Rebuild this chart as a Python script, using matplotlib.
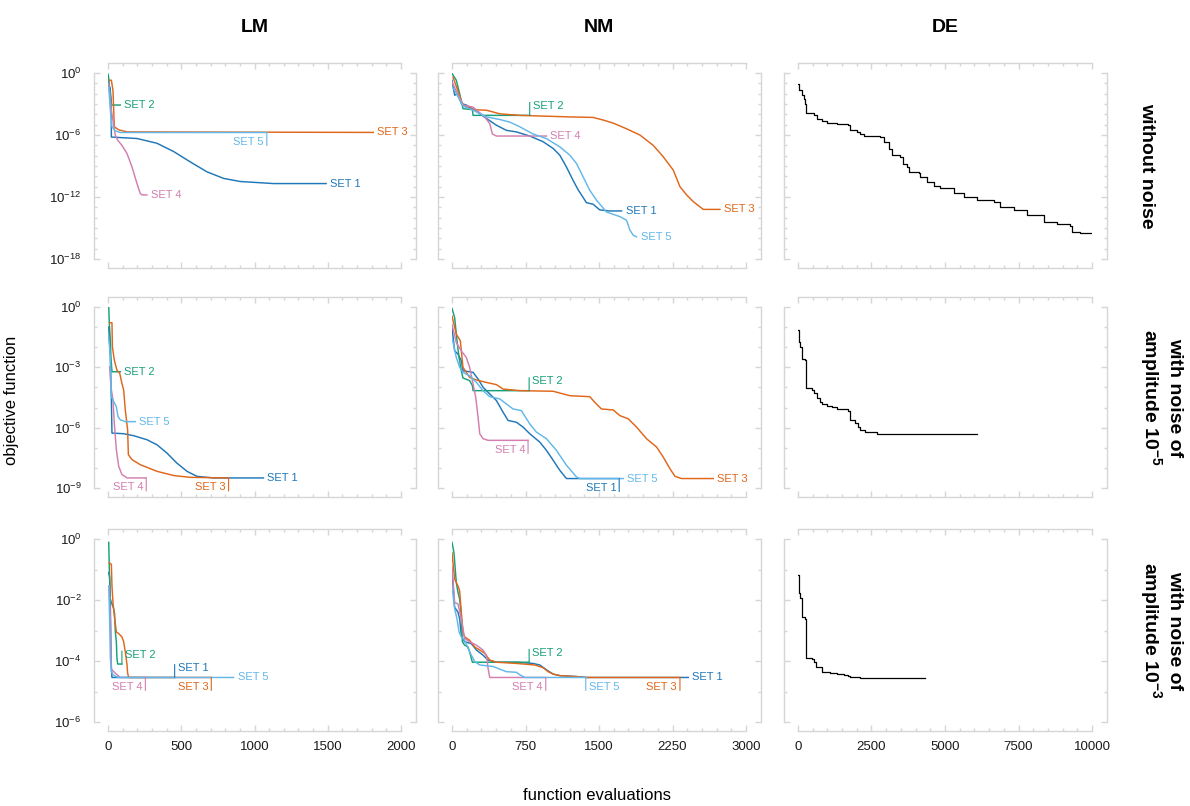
# Convergence of LM / NM / DE fits, three noise levels

import numpy as np
import matplotlib
matplotlib.use('Agg')
import matplotlib.pyplot as plt
from matplotlib.ticker import FixedLocator, NullFormatter, LogFormatterMathtext

plt.rcParams['font.family'] = ['Liberation Sans', 'DejaVu Sans']
plt.rcParams['mathtext.fontset'] = 'custom'
plt.rcParams['mathtext.rm'] = 'Liberation Sans'
plt.rcParams['mathtext.it'] = 'Liberation Sans:italic'
plt.rcParams['mathtext.bf'] = 'Liberation Sans:bold'
plt.rcParams['mathtext.default'] = 'regular'

methods = ['LM', 'NM', 'DE']
conditions = ['without noise',
              'with noise of\namplitude $10^{-5}$',
              'with noise of\namplitude $10^{-3}$']
set_names = ['SET 1', 'SET 2', 'SET 3', 'SET 4', 'SET 5']
x_max = [2000, 3000, 10000]
x_major = [500, 750, 2500]
x_minor = [100, 150, 500]
y_exp_min = [-18, -9, -6]
y_major_step = [6, 3, 2]

# values: x = function evaluations, E = log10(objective function)
# ---- without noise ----
LM0_S1_X = [0, 15, 22, 23, 198, 334, 448, 561, 675, 789, 902, 1130, 1489]
LM0_S1_E = [-0.8, -1.5, -3.0, -6.2, -6.34, -6.8, -7.6, -8.6, -9.56, -10.2, -10.5, -10.7, -10.7]
LM0_S2_X = [0, 5, 10, 20, 25, 84]
LM0_S2_E = [-0.1, -0.5, -1.5, -2.5, -3.1, -3.1]
LM0_S3_X = [11, 23, 34, 39, 43, 73, 130, 1811]
LM0_S3_E = [-0.7, -0.7, -1.7, -3.6, -5.2, -5.5, -5.7, -5.75]
LM0_S4_X = [5, 23, 34, 50, 66, 95, 130, 164, 198, 220, 232, 266]
LM0_S4_E = [-1.0, -3.6, -4.6, -6.0, -6.5, -7.0, -7.8, -9.1, -10.7, -11.65, -11.8, -11.8]
LM0_S5_X = [5, 16, 27, 50, 84, 1084]
LM0_S5_E = [-1.35, -3.6, -5.2, -5.6, -5.76, -5.76]

NM0_S1_X = [0, 27, 61, 95, 146, 232, 351, 453, 555, 657, 793, 930, 1032, 1100, 1168, 1236, 1287, 1372, 1440, 1508, 1610, 1730]
NM0_S1_E = [-0.7, -2.15, -2.0, -2.95, -3.1, -3.6, -4.4, -5.05, -5.55, -5.7, -6.1, -6.65, -7.3, -7.95, -9.1, -10.4, -11.3, -12.55, -12.7, -13.25, -13.35, -13.35]
NM0_S2_X = [0, 44, 78, 112, 208, 215, 793]
NM0_S2_E = [-0.05, -0.7, -2.0, -3.45, -3.55, -4.1, -4.1]
NM0_S3_X = [10, 112, 215, 351, 487, 691, 1032, 1202, 1440, 1542, 1645, 1781, 1917, 2053, 2155, 2258, 2326, 2394, 2462, 2564, 2734]
NM0_S3_E = [-0.4, -3.1, -3.55, -3.6, -3.95, -4.1, -4.2, -4.25, -4.3, -4.55, -4.85, -5.4, -6.0, -7.0, -8.1, -9.4, -11.0, -11.8, -12.45, -13.2, -13.2]
NM0_S4_X = [0, 112, 215, 334, 385, 412, 453, 964]
NM0_S4_E = [-0.87, -3.1, -3.3, -4.25, -4.9, -5.9, -6.1, -6.1]
NM0_S5_X = [0, 27, 61, 112, 215, 351, 487, 589, 691, 827, 964, 1100, 1202, 1270, 1338, 1406, 1474, 1576, 1713, 1781, 1815, 1849, 1883]
NM0_S5_E = [-1.35, -1.65, -2.3, -3.2, -3.6, -4.25, -4.5, -4.75, -5.2, -5.9, -6.35, -7.15, -7.95, -8.75, -10.05, -11.35, -12.3, -13.45, -13.9, -14.25, -15.2, -15.7, -15.85]

DE0_X = [0, 45, 136, 193, 249, 283, 533, 646, 816, 987, 1327, 1690, 1758, 2007, 2121, 2234, 2801, 2914, 3084, 3198, 3481,
         3572, 3708, 3765, 4105, 4162, 4389, 4615, 4842, 5296, 5636, 6090, 6656, 6883, 7337, 7791, 8358, 8811, 9265, 9321, 9605, 10000]
DE0_E = [-1.09, -1.67, -2.16, -2.48, -2.96, -3.86, -4.09, -4.41, -4.67, -4.8, -4.89, -5.05, -5.54, -5.7, -5.92, -6.12, -6.18,
         -6.66, -7.31, -7.95, -8.11, -8.76, -9.08, -9.56, -9.72, -10.11, -10.59, -10.95, -11.17, -11.65, -11.98, -12.3, -12.46,
         -12.94, -13.26, -13.75, -14.39, -14.62, -14.78, -15.36, -15.45, -15.45]

# ---- noise 1e-5 ----
LM1_S1_X = [5, 16, 23, 27, 107, 175, 266, 334, 402, 470, 539, 607, 721, 1061]
LM1_S1_E = [-1.0, -2.5, -4.6, -6.27, -6.3, -6.4, -6.6, -6.85, -7.26, -7.76, -8.17, -8.42, -8.5, -8.5]
LM1_S2_X = [5, 9, 16, 20, 27, 84]
LM1_S2_E = [0.0, -0.83, -1.65, -2.5, -3.22, -3.22]
LM1_S3_X = [11, 27, 30, 43, 61, 80, 95, 107, 118, 134, 139, 164, 220, 334, 448, 561, 823]
LM1_S3_E = [-0.78, -0.78, -1.98, -2.64, -3.14, -3.3, -3.8, -4.13, -5.12, -6.11, -7.34, -7.59, -7.84, -8.17, -8.38, -8.47, -8.5]
LM1_S4_X = [11, 20, 34, 43, 57, 73, 95, 130, 261]
LM1_S4_E = [-2.97, -3.96, -4.62, -5.78, -7.1, -7.92, -8.33, -8.5, -8.5]
LM1_S5_X = [5, 16, 23, 39, 57, 68, 84, 118, 186]
LM1_S5_E = [-1.49, -2.48, -4.46, -4.7, -4.95, -5.45, -5.61, -5.7, -5.7]

NM1_S1_X = [0, 27, 61, 95, 112, 215, 266, 317, 351, 385, 453, 521, 572, 657, 725, 793, 896, 964, 1032, 1100, 1168, 1706]
NM1_S1_E = [-1.02, -2.18, -2.34, -2.67, -3.17, -3.25, -3.58, -3.99, -4.16, -4.32, -4.65, -5.23, -5.64, -5.73, -5.97, -6.3, -6.72, -7.13, -7.62, -8.12, -8.53, -8.53]
NM1_S2_X = [0, 27, 51, 72, 95, 112, 180, 208, 215, 787]
NM1_S2_E = [-0.07, -0.53, -1.68, -2.51, -3.17, -3.53, -3.66, -3.91, -4.16, -4.16]
NM1_S3_X = [0, 44, 85, 112, 180, 249, 351, 453, 521, 691, 1032, 1202, 1406, 1457, 1525, 1645, 1713, 1798, 1883, 1985, 2087, 2155, 2224, 2275, 2343, 2666]
NM1_S3_E = [-0.45, -1.35, -1.68, -3.0, -3.5, -3.63, -3.75, -3.86, -4.08, -4.16, -4.19, -4.41, -4.46, -4.74, -5.07, -5.12, -5.4, -5.56, -5.97, -6.55, -6.96, -7.46, -8.04, -8.42, -8.53, -8.53]
NM1_S4_X = [0, 44, 95, 146, 180, 215, 242, 266, 283, 317, 368, 776]
NM1_S4_E = [-0.86, -1.77, -2.18, -2.51, -3.0, -3.83, -4.49, -5.48, -6.3, -6.55, -6.63, -6.63]
NM1_S5_X = [0, 44, 78, 112, 180, 249, 317, 385, 487, 555, 623, 708, 793, 861, 964, 1066, 1168, 1270, 1304, 1747]
NM1_S5_E = [-1.52, -2.51, -3.0, -3.25, -3.42, -3.75, -4.16, -4.46, -4.57, -4.82, -5.07, -5.15, -5.81, -6.22, -6.55, -7.13, -7.87, -8.45, -8.53, -8.53]

DE1_X = [0, 23, 79, 136, 227, 272, 283, 476, 556, 646, 737, 816, 987, 1157, 1327, 1690, 1758, 1950, 2030, 2121, 2291, 2688, 2722, 6090]
DE1_E = [-1.15, -1.75, -2.0, -2.57, -2.66, -3.07, -4.05, -4.13, -4.3, -4.54, -4.7, -4.82, -4.9, -4.98, -5.08, -5.15, -5.64, -5.77, -5.97, -6.13, -6.23, -6.3, -6.33, -6.33]

# ---- noise 1e-3 ----
LM2_S1_X = [5, 11, 16, 20, 23, 27, 455]
LM2_S1_E = [-1.1, -1.26, -2.18, -3.54, -4.24, -4.54, -4.54]
LM2_S2_X = [5, 9, 16, 27, 39, 45, 50, 57, 61, 66, 95]
LM2_S2_E = [-0.11, -0.99, -1.97, -2.13, -2.29, -2.45, -3.05, -3.37, -3.91, -4.1, -4.1]
LM2_S3_X = [9, 23, 27, 34, 43, 57, 73, 95, 107, 118, 130, 134, 141, 705]
LM2_S3_E = [-0.78, -0.83, -1.54, -2.08, -2.51, -3.05, -3.1, -3.21, -3.37, -3.7, -4.13, -4.4, -4.54, -4.54]
LM2_S4_X = [9, 16, 23, 27, 39, 61, 84, 255]
LM2_S4_E = [-1.54, -2.62, -4.24, -4.29, -4.35, -4.45, -4.54, -4.54]
LM2_S5_X = [5, 11, 16, 23, 34, 50, 73, 857]
LM2_S5_E = [-1.54, -2.62, -3.91, -4.35, -4.45, -4.5, -4.54, -4.54]

NM2_S1_X = [0, 27, 61, 78, 95, 129, 197, 249, 317, 368, 453, 657, 827, 896, 964, 1032, 1100, 1270, 1372, 2411]
NM2_S1_E = [-1.1, -2.24, -2.4, -2.62, -3.16, -3.37, -3.43, -3.64, -3.81, -3.97, -4.04, -4.04, -4.08, -4.13, -4.29, -4.43, -4.48, -4.51, -4.54, -4.54]
NM2_S2_X = [0, 20, 44, 61, 78, 95, 106, 129, 163, 180, 197, 208, 787]
NM2_S2_E = [-0.11, -0.45, -1.43, -1.75, -1.97, -2.51, -3.37, -3.48, -3.54, -3.7, -3.91, -4.04, -4.04]
NM2_S3_X = [0, 27, 61, 78, 95, 112, 129, 180, 232, 283, 334, 385, 453, 657, 844, 930, 981, 1032, 1100, 1270, 1372, 2326]
NM2_S3_E = [-0.45, -1.32, -1.54, -1.7, -2.4, -3.05, -3.21, -3.32, -3.54, -3.64, -3.75, -3.97, -4.04, -4.08, -4.13, -4.22, -4.35, -4.43, -4.48, -4.51, -4.54, -4.54]
NM2_S4_X = [0, 27, 61, 95, 129, 180, 249, 317, 351, 368, 385, 957]
NM2_S4_E = [-0.89, -2.08, -2.13, -2.62, -3.26, -3.37, -3.48, -3.64, -3.81, -4.24, -4.54, -4.54]
NM2_S5_X = [0, 27, 51, 72, 95, 129, 180, 232, 283, 419, 555, 657, 691, 742, 1365]
NM2_S5_E = [-1.54, -2.29, -2.62, -3.05, -3.21, -3.32, -3.7, -4.02, -4.13, -4.18, -4.35, -4.37, -4.45, -4.54, -4.54]

DE2_X = [0, 23, 79, 136, 227, 272, 283, 476, 533, 624, 816, 1100, 1327, 1554, 1690, 1758, 2121, 4309]
DE2_E = [-1.17, -1.76, -1.92, -2.57, -2.63, -3.06, -3.9, -3.92, -4.03, -4.19, -4.36, -4.38, -4.41, -4.46, -4.5, -4.53, -4.55, -4.55]

LM_RUNS = [
    [(LM0_S1_X, LM0_S1_E), (LM0_S2_X, LM0_S2_E), (LM0_S3_X, LM0_S3_E), (LM0_S4_X, LM0_S4_E), (LM0_S5_X, LM0_S5_E)],
    [(LM1_S1_X, LM1_S1_E), (LM1_S2_X, LM1_S2_E), (LM1_S3_X, LM1_S3_E), (LM1_S4_X, LM1_S4_E), (LM1_S5_X, LM1_S5_E)],
    [(LM2_S1_X, LM2_S1_E), (LM2_S2_X, LM2_S2_E), (LM2_S3_X, LM2_S3_E), (LM2_S4_X, LM2_S4_E), (LM2_S5_X, LM2_S5_E)],
]
NM_RUNS = [
    [(NM0_S1_X, NM0_S1_E), (NM0_S2_X, NM0_S2_E), (NM0_S3_X, NM0_S3_E), (NM0_S4_X, NM0_S4_E), (NM0_S5_X, NM0_S5_E)],
    [(NM1_S1_X, NM1_S1_E), (NM1_S2_X, NM1_S2_E), (NM1_S3_X, NM1_S3_E), (NM1_S4_X, NM1_S4_E), (NM1_S5_X, NM1_S5_E)],
    [(NM2_S1_X, NM2_S1_E), (NM2_S2_X, NM2_S2_E), (NM2_S3_X, NM2_S3_E), (NM2_S4_X, NM2_S4_E), (NM2_S5_X, NM2_S5_E)],
]
DE_RUNS = [(DE0_X, DE0_E), (DE1_X, DE1_E), (DE2_X, DE2_E)]

# ---- styling / layout ----
set_colors = ['#1f77b8', '#16a07a', '#e0661a', '#d27fb0', '#62b8ea']
# where the end label of each curve sits: LM rows then NM rows
LM_LABELS = [['right', 'right', 'right', 'right', 'below_left'],
             ['right', 'right', 'below_left', 'below_left', 'right'],
             ['above_right', 'above_right', 'below_left', 'below_left', 'right']]
NM_LABELS = [['right', 'above_right', 'right', 'right', 'right'],
             ['below_left', 'above_right', 'right', 'below_left', 'right'],
             ['right', 'above_right', 'below_left', 'below_left', 'below_right']]

W, H = 1190, 806
PT = 0.72  # points per pixel at dpi 100
col_left = [108, 452, 798]
col_width = [293, 294, 294]
row_top = [73, 307, 539]
row_bot = [259, 488, 722]
spine_col = '#d6d6d6'


def label_curve(ax, x, y, text, color, mode):
    if mode == 'right':
        ax.annotate(text, (x, y), xytext=(4 * PT, 0), textcoords='offset points',
                    ha='left', va='center', color=color, fontsize=8)
        return
    up = 1 if mode == 'above_right' else -1
    ax.annotate('', (x, y), xytext=(0, up * 13 * PT), textcoords='offset points',
                arrowprops=dict(arrowstyle='-', color=color, lw=0.8, shrinkA=0, shrinkB=0))
    if mode == 'below_left':
        ax.annotate(text, (x, y), xytext=(-3 * PT, -9.5 * PT), textcoords='offset points',
                    ha='right', va='center', color=color, fontsize=8)
    else:
        ax.annotate(text, (x, y), xytext=(3 * PT, up * 9.5 * PT), textcoords='offset points',
                    ha='left', va='center', color=color, fontsize=8)


def style_axes(ax, r, c):
    ax.set_yscale('log')
    ax.set_xlim(0, x_max[c])
    ax.set_ylim(10.0 ** y_exp_min[r], 1)
    for side, off in [('left', 14), ('right', 15), ('top', 10), ('bottom', 9)]:
        ax.spines[side].set_position(('outward', off * PT))
        ax.spines[side].set_color(spine_col)
        ax.spines[side].set_linewidth(1.0)
    ax.xaxis.set_major_locator(FixedLocator(np.arange(0, x_max[c] + 1, x_major[c])))
    ax.xaxis.set_minor_locator(FixedLocator(np.arange(0, x_max[c] + 1, x_minor[c])))
    ax.yaxis.set_major_locator(FixedLocator(10.0 ** np.arange(y_exp_min[r], 1, y_major_step[r])))
    ax.yaxis.set_minor_locator(FixedLocator(10.0 ** np.arange(y_exp_min[r], 1, 1)))
    ax.yaxis.set_major_formatter(LogFormatterMathtext())
    ax.yaxis.set_minor_formatter(NullFormatter())
    ax.tick_params(which='both', direction='in', top=True, right=True,
                   color=spine_col, labelcolor='#1a1a1a', labelsize=9.5, width=1.0)
    ax.tick_params(which='major', length=4.5)
    ax.tick_params(which='minor', length=2.5)
    ax.tick_params(axis='y', pad=9)
    ax.tick_params(axis='x', pad=7)
    ax.tick_params(labelleft=(c == 0), labelbottom=(r == 2))
    ax.set_facecolor('none')


fig = plt.figure(figsize=(W / 100, H / 100), dpi=100)

for r in range(3):
    for c in range(3):
        ax = fig.add_axes([col_left[c] / W, 1 - row_bot[r] / H,
                           col_width[c] / W, (row_bot[r] - row_top[r]) / H])
        style_axes(ax, r, c)
        if c == 2:
            x, e = DE_RUNS[r]
            ax.plot(x, 10.0 ** np.array(e), color='black', lw=0.9, drawstyle='steps-post')
            continue
        runs = LM_RUNS[r] if c == 0 else NM_RUNS[r]
        modes = LM_LABELS[r] if c == 0 else NM_LABELS[r]
        for k, (x, e) in enumerate(runs):
            y = 10.0 ** np.array(e)
            ax.plot(x, y, color=set_colors[k], lw=1.05)
            label_curve(ax, x[-1], y[-1], set_names[k], set_colors[k], modes[k])

for c in range(3):
    fig.text((col_left[c] + col_width[c] / 2) / W, 1 - 27 / H, methods[c],
             ha='center', va='center', fontsize=14, fontweight='bold')

for r in range(3):
    fig.text(1138 / W, 1 - (row_top[r] + row_bot[r]) / 2 / H, conditions[r],
             ha='left', va='center', rotation=270, fontsize=14, fontweight='bold',
             multialignment='center', linespacing=1.1)

fig.text(12 / W, 1 - 400 / H, 'objective function', rotation=90,
         ha='center', va='center', fontsize=12)
fig.text(597 / W, 1 - 795 / H, 'function evaluations',
         ha='center', va='center', fontsize=12)

fig.savefig('out.png', dpi=100)
